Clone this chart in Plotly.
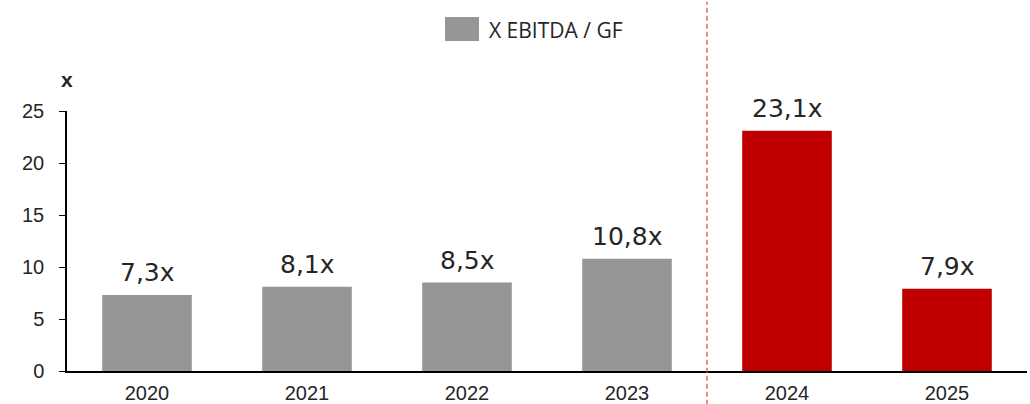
import plotly.graph_objects as go

years = ["2020", "2021", "2022", "2023", "2024", "2025"]
multiples = [7.3, 8.1, 8.5, 10.8, 23.1, 7.9]
bar_colors = ["#969696", "#969696", "#969696", "#969696", "#c00000", "#c00000"]
y_ticks = [0, 5, 10, 15, 20, 25]
legend_label = "X EBITDA / GF"

labels = [f"{v:.1f}".replace(".", ",") + "x" for v in multiples]

fig = go.Figure()
fig.add_trace(go.Bar(
    x=years,
    y=multiples,
    marker=dict(color=bar_colors, line=dict(width=0)),
    width=0.56,
    showlegend=False,
))

# value labels above the bars (x given as category index)
for i, (val, lab) in enumerate(zip(multiples, labels)):
    fig.add_annotation(x=i, y=val, text=lab, showarrow=False, yanchor="bottom", yshift=6,
                       font=dict(family="DejaVu Sans, sans-serif", size=25, color="#262626"))

# separator between actuals and 2024/2025
fig.add_shape(type="line", xref="x", yref="paper", x0=3.5, x1=3.5, y0=-0.13, y1=1.42,
              line=dict(color="#d9534f", width=1.3, dash="5px,3px"))

# legend drawn by hand so the swatch matches
fig.add_shape(type="rect", xref="paper", yref="paper",
              x0=(445 - 67) / 960, x1=(479 - 67) / 960,
              y0=(371 - 41) / 260, y1=(371 - 17) / 260,
              fillcolor="#969696", line=dict(width=0))
fig.add_annotation(text=legend_label, xref="paper", yref="paper",
                   x=(487 - 67) / 960, y=(371 - 30) / 260, xanchor="left", yanchor="middle",
                   showarrow=False, font=dict(family="Open Sans, sans-serif", size=21, color="#262626"))

fig.add_annotation(text="<b>x</b>", xref="paper", yref="paper",
                   x=0, y=(371 - 79) / 260, xanchor="center", yanchor="middle",
                   showarrow=False, font=dict(family="Liberation Sans, Arial, sans-serif", size=21, color="#262626"))

fig.update_layout(
    width=1030,
    height=404,
    margin=dict(l=67, r=3, t=111, b=33),
    plot_bgcolor="white",
    paper_bgcolor="white",
    font=dict(family="Liberation Sans, Arial, sans-serif", color="#262626"),
    xaxis=dict(
        type="category",
        range=[-0.5, 5.5],
        showgrid=False,
        showline=True,
        linecolor="black",
        linewidth=1.5,
        ticks="",
        tickfont=dict(size=20),
        ticklabelstandoff=3,
        automargin=False,
    ),
    yaxis=dict(
        range=[0, 25],
        tickvals=y_ticks,
        showgrid=False,
        zeroline=False,
        showline=True,
        linecolor="black",
        linewidth=1.5,
        ticks="outside",
        ticklen=6,
        tickcolor="black",
        tickfont=dict(size=20),
        ticklabelstandoff=11,
        automargin=False,
    ),
)

fig.write_html("out.html", config={"displayModeBar": False},
               post_script="document.body.style.margin='0';")
